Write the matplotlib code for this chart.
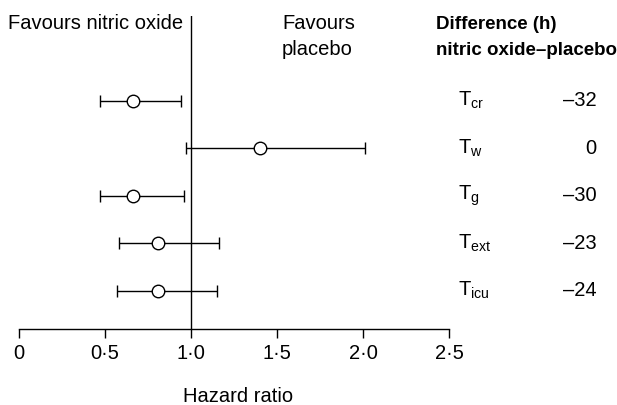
import numpy as np
import matplotlib
matplotlib.use("Agg")
import matplotlib.pyplot as plt

plt.rcParams['font.family'] = ['Liberation Sans', 'DejaVu Sans']
plt.rcParams['mathtext.fontset'] = 'custom'
plt.rcParams['mathtext.rm'] = 'Liberation Sans'
plt.rcParams['mathtext.it'] = 'Liberation Sans'

# data
outcomes = ['cr', 'w', 'g', 'ext', 'icu']
hr = [0.66, 1.40, 0.66, 0.81, 0.81]
ci_lo = [0.47, 0.97, 0.47, 0.58, 0.57]
ci_hi = [0.94, 2.01, 0.96, 1.16, 1.15]
diff_h = ['\u201332', '0', '\u201330', '\u201323', '\u201324']
xticks = [0, 0.5, 1.0, 1.5, 2.0, 2.5]
xticklabels = ['0', '0\u00b75', '1\u00b70', '1\u00b75', '2\u00b70', '2\u00b75']

W, H = 617, 405
fig = plt.figure(figsize=(W / 100, H / 100), dpi=100)
ax = fig.add_axes([19 / W, 1 - 329 / H, 430 / W, 313 / H])

rows = np.arange(len(outcomes))
hr = np.array(hr)
err = [hr - np.array(ci_lo), np.array(ci_hi) - hr]

ax.axvline(1.0, color='black', lw=1.0, zorder=1)
ax.errorbar(hr, rows, xerr=err, fmt='o', color='black', ecolor='black',
            elinewidth=1.0, capsize=4.5, capthick=1.0,
            markersize=9, markerfacecolor='white', markeredgecolor='black',
            markeredgewidth=1.0, zorder=3)

ax.set_xlim(0, 2.5)
ax.set_ylim(4.806, -1.783)
ax.set_xticks(xticks)
ax.set_xticklabels(xticklabels, fontsize=14.5)
ax.set_yticks([])
ax.tick_params(axis='x', direction='out', length=6.5, width=1.0, pad=4.5)
for s in ['left', 'top', 'right']:
    ax.spines[s].set_visible(False)
ax.spines['bottom'].set_linewidth(1.0)

fs = 14.5
ax.text(0.953, -1.51, 'Favours nitric oxide', ha='right', va='baseline',
        fontsize=fs, clip_on=False)
ax.text(1.529, -1.51, 'Favours', ha='left', va='baseline', fontsize=fs, clip_on=False)
ax.text(1.529, -0.96, 'placebo', ha='left', va='baseline', fontsize=fs, clip_on=False)
ax.text(2.424, -1.51, 'Difference (h)', ha='left', va='baseline', fontsize=13.5,
        fontweight='bold', clip_on=False)
ax.text(2.424, -0.96, 'nitric oxide\u2013placebo', ha='left', va='baseline',
        fontsize=13.5, fontweight='bold', clip_on=False)

for i, (o, d) in enumerate(zip(outcomes, diff_h)):
    ax.text(2.555, i, r'$\mathrm{T}_{\mathrm{%s}}$' % o, ha='left', va='center',
            fontsize=fs, clip_on=False)
    ax.text(3.357, i, d, ha='right', va='center', fontsize=fs, clip_on=False)

fig.text(238 / W, 1 - 396 / H, 'Hazard ratio', ha='center', va='center', fontsize=fs)

fig.savefig('out.png', dpi=100)
